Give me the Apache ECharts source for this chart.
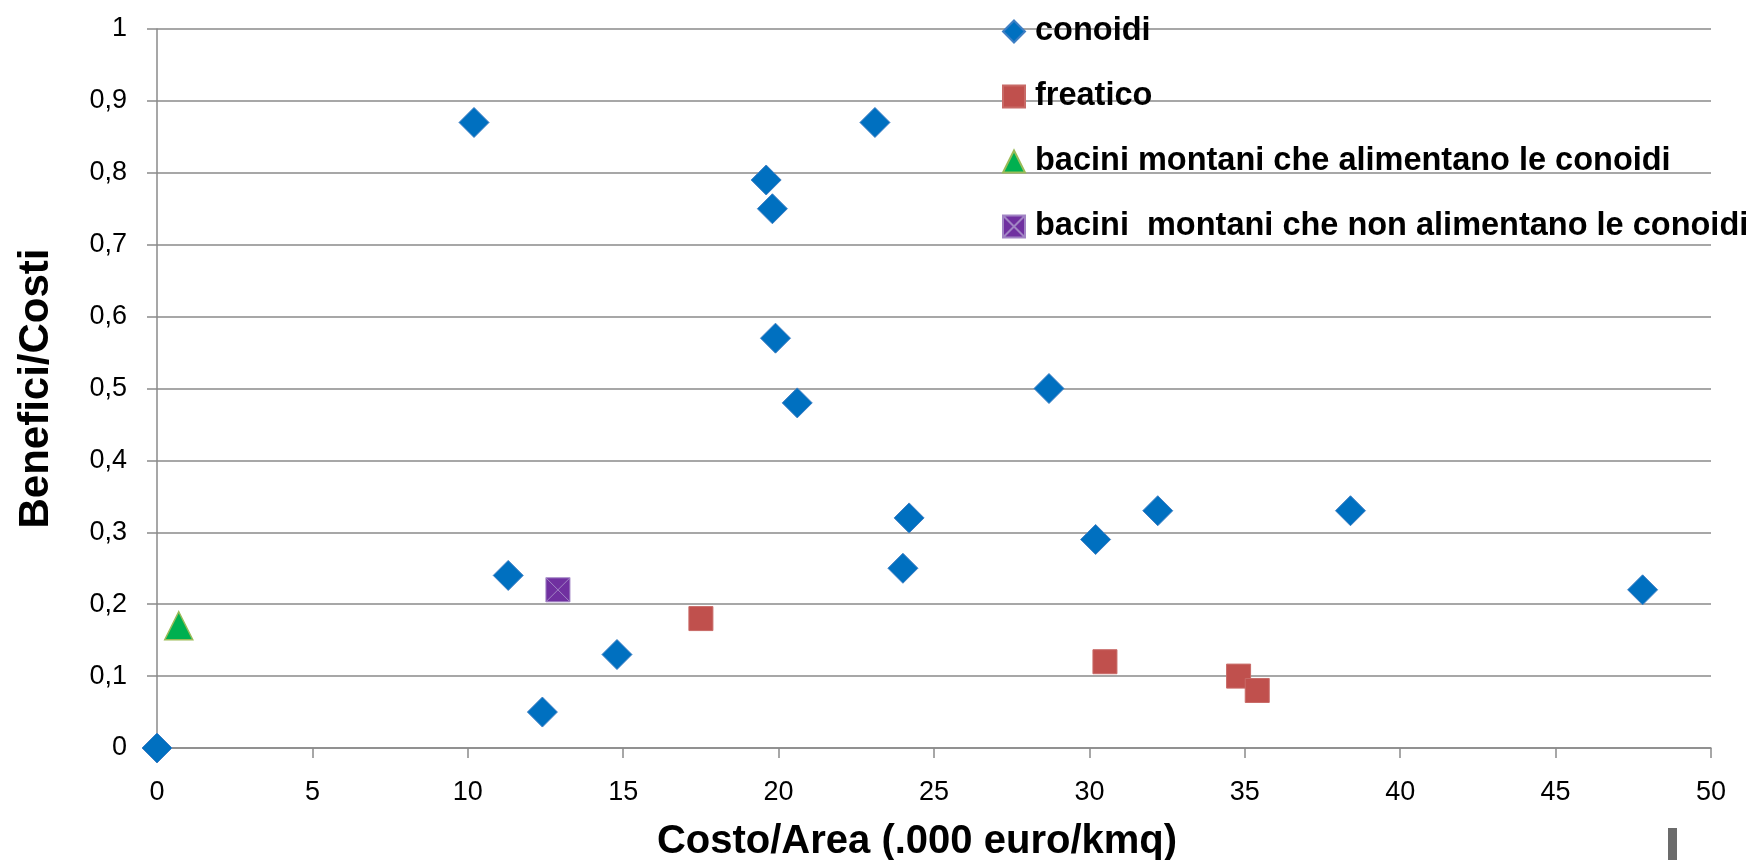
<!DOCTYPE html>
<html>
<head>
<meta charset="utf-8">
<script src="https://cdn.jsdelivr.net/npm/echarts@6/dist/echarts.min.js"></script>
<style>
html,body{margin:0;padding:0;background:#fff;}
#chart{width:1754px;height:860px;}
</style>
</head>
<body>
<div id="chart"></div>
<script>
// ---- data ----
const seriesNames = [
  'conoidi',
  'freatico',
  'bacini montani che alimentano le conoidi',
  'bacini  montani che non alimentano le conoidi'
];
const conoidi = [
  [0, 0], [10.2, 0.87], [23.1, 0.87], [19.6, 0.79], [19.8, 0.75],
  [19.9, 0.57], [20.6, 0.48], [28.7, 0.50], [24.2, 0.32], [32.2, 0.33],
  [38.4, 0.33], [30.2, 0.29], [24.0, 0.25], [47.8, 0.22], [11.3, 0.24],
  [14.8, 0.13], [12.4, 0.05]
];
const freatico = [[17.5, 0.18], [30.5, 0.12], [34.8, 0.10], [35.4, 0.08]];
const baciniAlimentano = [[0.7, 0.17]];
const baciniNonAlimentano = [[12.9, 0.22]];
const xTickLabels = ['0', '5', '10', '15', '20', '25', '30', '35', '40', '45', '50'];
const yTickLabels = ['0', '0,1', '0,2', '0,3', '0,4', '0,5', '0,6', '0,7', '0,8', '0,9', '1'];
const xTitle = 'Costo/Area (.000 euro/kmq)';
const yTitle = 'Benefici/Costi';

// ---- chart ----
const FONT = '"Liberation Sans", Arial, sans-serif';
const gridColor = '#8a8a8a';
const crossPath = 'path://M0,0L10,0L10,10L0,10Z M0,0L10,10 M10,0L0,10';

const chart = echarts.init(document.getElementById('chart'), null, {renderer: 'canvas'});
chart.setOption({
  backgroundColor: '#ffffff',
  animation: false,
  grid: {left: 157, right: 43, top: 29, bottom: 112, containLabel: false, outerBoundsMode: 'none'},
  legend: {
    orient: 'vertical',
    left: 997,
    top: 10,
    itemWidth: 22,
    itemHeight: 22,
    itemGap: 32,
    textStyle: {fontFamily: FONT, fontWeight: 'bold', fontSize: 32.5, color: '#000', lineHeight: 32, padding: [0, 0, 0, 5]},
    data: [
      {name: seriesNames[0], icon: 'diamond'},
      {name: seriesNames[1], icon: 'rect'},
      {name: seriesNames[2], icon: 'triangle'},
      {name: seriesNames[3], icon: crossPath}
    ]
  },
  xAxis: {
    type: 'value', min: 0, max: 50, interval: 5,
    name: xTitle, nameLocation: 'middle', nameGap: 74,
    nameTextStyle: {fontFamily: FONT, fontWeight: 'bold', fontSize: 40, color: '#000', padding: [0, 34, 0, 0]},
    axisLine: {show: true, lineStyle: {color: gridColor, width: 1.5}},
    axisTick: {show: true, length: 10, lineStyle: {color: gridColor, width: 1.5}},
    axisLabel: {margin: 31, fontFamily: FONT, fontSize: 27, color: '#000',
      formatter: function (v) { return xTickLabels[Math.round(v / 5)]; }},
    splitLine: {show: false}
  },
  yAxis: {
    type: 'value', min: 0, max: 1, interval: 0.1,
    name: yTitle, nameLocation: 'middle', nameGap: 100, nameRotate: 90,
    nameTextStyle: {fontFamily: FONT, fontWeight: 'bold', fontSize: 42, color: '#000'},
    axisLine: {show: true, lineStyle: {color: gridColor, width: 1.5}},
    axisTick: {show: true, length: 10, lineStyle: {color: gridColor, width: 1.5}},
    axisLabel: {margin: 30, fontFamily: FONT, fontSize: 27, color: '#000',
      formatter: function (v) { return yTickLabels[Math.round(v * 10)]; }},
    splitLine: {show: true, lineStyle: {color: gridColor, width: 1.5}}
  },
  series: [
    {
      name: seriesNames[0], type: 'scatter', data: conoidi,
      symbol: 'diamond', symbolSize: 30,
      itemStyle: {color: '#0070C0', borderColor: '#3f7fc4', borderWidth: 1, opacity: 1}
    },
    {
      name: seriesNames[1], type: 'scatter', data: freatico,
      symbol: 'rect', symbolSize: 24,
      itemStyle: {color: '#C0504D', borderColor: '#c86a67', borderWidth: 1, opacity: 1}
    },
    {
      name: seriesNames[2], type: 'scatter', data: baciniAlimentano,
      symbol: 'triangle', symbolSize: 28,
      itemStyle: {color: '#00B050', borderColor: '#9BBB59', borderWidth: 1.5, opacity: 1}
    },
    {
      name: seriesNames[3], type: 'scatter', data: baciniNonAlimentano,
      symbol: crossPath, symbolSize: 24,
      itemStyle: {color: '#7030A0', borderColor: '#a184c4', borderWidth: 1, opacity: 1}
    }
  ],
  graphic: [
    {type: 'rect', left: 1668, top: 828, shape: {width: 9, height: 32}, style: {fill: '#6b6b6b'}, silent: true}
  ]
});
</script>
</body>
</html>
